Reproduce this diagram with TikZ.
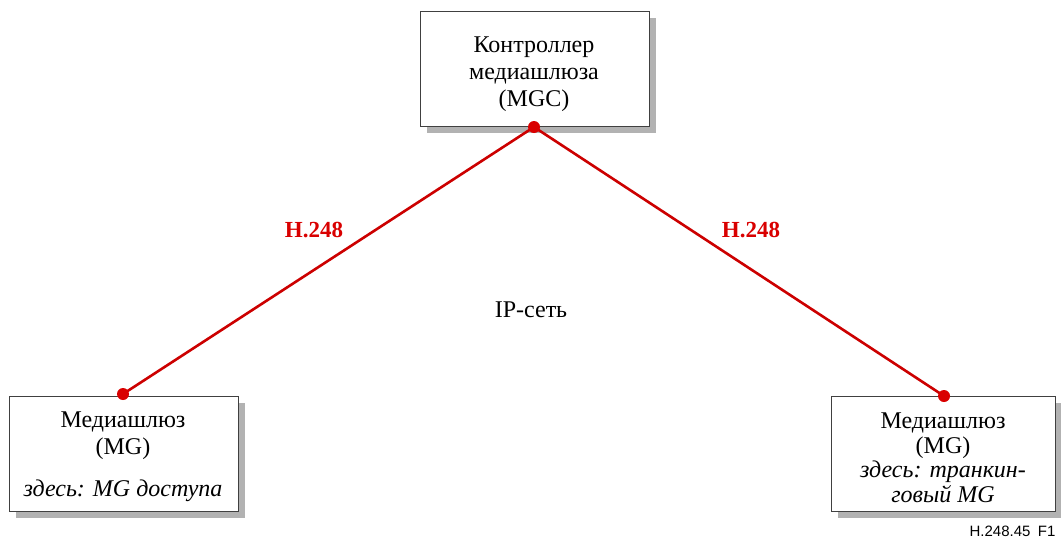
\documentclass[tikz,border=0pt]{standalone}
\usepackage{fontspec}
\setmainfont{Liberation Serif}
\newfontfamily\labelsans{Liberation Sans}
\begin{document}
\begin{tikzpicture}[x=1pt,y=-1pt,
  unit/.style={draw=black!75,line width=1.1pt,fill=white,minimum width=229pt,
    minimum height=115pt,anchor=north west,inner sep=0pt},
  shade/.style={fill=black!30},
  link/.style={draw=red!80!black,line width=2.6pt},
  port/.style={circle,fill=red!85!black,inner sep=0pt,minimum size=12pt},
  proto/.style={text=red!85!black,font=\fontsize{23}{26}\selectfont\bfseries},
  body/.style={font=\fontsize{24}{27}\selectfont,align=center}]
\useasboundingbox (0,0) rectangle (1061,539);

% shadows
\fill[shade] (427,18) rectangle (656,133);
\fill[shade] (16,403) rectangle (245,518);
\fill[shade] (838,403) rectangle (1061,518);

% boxes
\node[unit] (mgc) at (420,11) {};
\node[unit] (mga) at (9,396) {};
\node[unit,minimum width=224pt] (mgt) at (831,396) {};

% box texts
\node[body] (mgctext) at (534,74) {Контроллер\\медиашлюза\\(MGC)};
\node[body] (mgatext) at (123,436) {Медиашлюз\\(MG)};
\node[body,font=\fontsize{24}{27}\selectfont\itshape] (mganote) at (123,491) {здесь: MG доступа};
\node[body,font=\fontsize{24}{24.5}\selectfont] (mgttext) at (943,458)
  {Медиашлюз\\(MG)\\\textit{здесь: транкин-}\\\textit{говый MG}};

% connection points
\coordinate (pc) at (534,127);
\coordinate (pa) at (123,394);
\coordinate (pt) at (944,396);
\draw[link] (pc) -- (pa);
\draw[link] (pc) -- (pt);
\node[port] (dc) at (pc) {};
\node[port] (da) at (pa) {};
\node[port] (dt) at (pt) {};

% labels
\node[proto] (h1) at (314,230) {H.248};
\node[proto] (h2) at (751,230) {H.248};
\node[body] (ip) at (531,310) {IP-сеть};
\node[font=\labelsans\fontsize{15}{17}\selectfont,anchor=east] (fig) at (1059,531) {H.248.45\enspace F1};
\end{tikzpicture}
\end{document}
